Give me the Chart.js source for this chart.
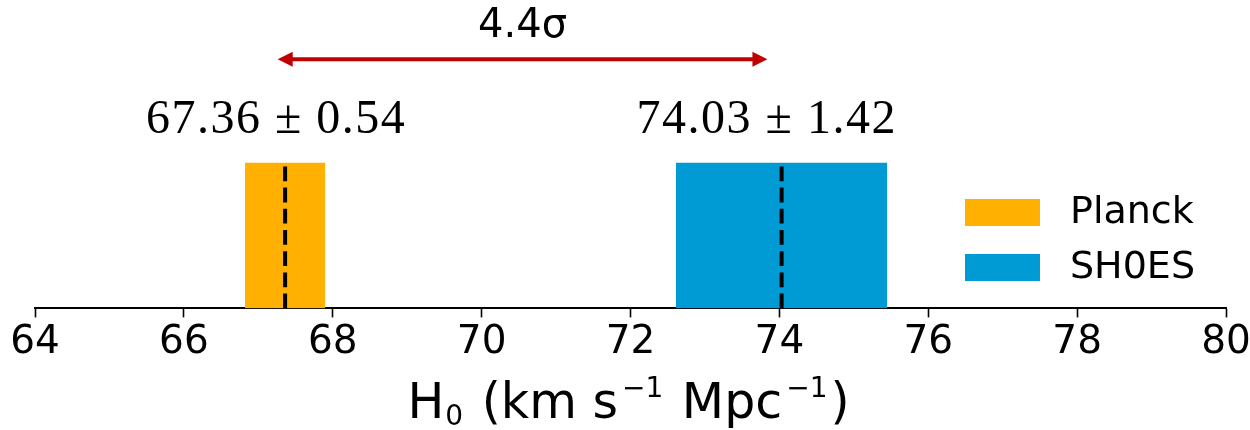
<!DOCTYPE html>
<html>
<head>
<meta charset="utf-8">
<script src="https://cdn.jsdelivr.net/npm/chart.js@4/dist/chart.umd.min.js"></script>
<style>
  html, body { margin: 0; padding: 0; background: #ffffff; }
  canvas { display: block; }
</style>
</head>
<body>
<canvas id="h0chart" width="1250" height="430"></canvas>
<script>
// Hubble constant measurements (km s^-1 Mpc^-1)
const surveys = ['Planck', 'SH0ES'];
const h0Values = [67.36, 74.03];
const h0Errors = [0.54, 1.42];
const tensionLabel = '4.4σ';
const xTickValues = [64, 66, 68, 70, 72, 74, 76, 78, 80];

// styling
const surveyColors = ['#ffb000', '#009bd5'];
const arrowColor = '#c00000';
const BAND_TOP = 1;          // height of the 1-sigma bands in y units
const LABEL_LEVEL = 1.204;   // baseline of the value labels
const ARROW_LEVEL = 1.71;    // height of the tension arrow
const TENSION_LEVEL = 1.863; // baseline of the tension text
const labelAnchors = [67.24, 73.83];
const arrowEnds = [67.26, 73.84];

// x-axis title pieces: [text, size, baseline shift, space before, space after]
const axisTitle = [
  ['H', 49, 0, 0, 0], ['0', 28, 6.7, 1, 3], [' (km s', 49, 0, 0, 0],
  ['−1', 28, -21.3, 4, 3], [' Mpc', 49, 0, 0, 0], ['−1', 28, -21.3, 4, 3], [')', 49, 0, 0, 0]
];

function bandDataset(i) {
  const lo = h0Values[i] - h0Errors[i];
  const hi = h0Values[i] + h0Errors[i];
  return {
    label: surveys[i],
    data: [{x: lo, y: 0}, {x: lo, y: BAND_TOP}, {x: hi, y: BAND_TOP}, {x: hi, y: 0}],
    fill: 'origin',
    backgroundColor: surveyColors[i],
    borderColor: surveyColors[i],
    borderWidth: 0,
    pointRadius: 0,
    tension: 0,
    order: 2
  };
}

function centreDataset(i) {
  return {
    label: surveys[i] + ' central value',
    data: [{x: h0Values[i], y: 0}, {x: h0Values[i], y: BAND_TOP}],
    fill: false,
    borderColor: '#000000',
    borderWidth: 4,
    borderDash: [14.8, 6.4],
    borderCapStyle: 'butt',
    pointRadius: 0,
    order: 1
  };
}

const datasets = [];
surveys.forEach((_, i) => datasets.push(bandDataset(i)));
surveys.forEach((_, i) => datasets.push(centreDataset(i)));

// value labels, tension arrow, axis title and the legend
const h0Annotations = {
  id: 'h0Annotations',
  afterDraw(chart) {
    const {ctx, chartArea, scales: {x, y}} = chart;
    ctx.save();

    // "value ± error" labels
    ctx.fillStyle = '#000000';
    ctx.font = '48px "Liberation Serif"';
    ctx.letterSpacing = '1.5px';
    ctx.textAlign = 'center';
    ctx.textBaseline = 'alphabetic';
    h0Values.forEach((v, i) => {
      ctx.fillText(v.toFixed(2) + ' ± ' + h0Errors[i].toFixed(2),
        x.getPixelForValue(labelAnchors[i]), y.getPixelForValue(LABEL_LEVEL));
    });
    ctx.letterSpacing = '0px';

    // double-headed arrow
    const xa = x.getPixelForValue(arrowEnds[0]);
    const xb = x.getPixelForValue(arrowEnds[1]);
    const ya = y.getPixelForValue(ARROW_LEVEL);
    const headLen = 15, headHalf = 7.5;
    ctx.strokeStyle = arrowColor;
    ctx.fillStyle = arrowColor;
    ctx.lineWidth = 4;
    ctx.beginPath();
    ctx.moveTo(xa + headLen - 1, ya);
    ctx.lineTo(xb - headLen + 1, ya);
    ctx.stroke();
    ctx.beginPath();
    ctx.moveTo(xa, ya);
    ctx.lineTo(xa + headLen, ya - headHalf);
    ctx.lineTo(xa + headLen, ya + headHalf);
    ctx.closePath();
    ctx.fill();
    ctx.beginPath();
    ctx.moveTo(xb, ya);
    ctx.lineTo(xb - headLen, ya - headHalf);
    ctx.lineTo(xb - headLen, ya + headHalf);
    ctx.closePath();
    ctx.fill();

    // tension text
    ctx.fillStyle = '#000000';
    ctx.font = '40px "DejaVu Sans"';
    ctx.textAlign = 'center';
    ctx.fillText(tensionLabel, (xa + xb) / 2, y.getPixelForValue(TENSION_LEVEL));

    // x-axis title with sub/superscripts
    ctx.textAlign = 'left';
    ctx.textBaseline = 'alphabetic';
    const widths = axisTitle.map(([t, s, dy, before, after]) => {
      ctx.font = s + 'px "DejaVu Sans"';
      return before + ctx.measureText(t).width + after;
    });
    const total = widths.reduce((a, b) => a + b, 0);
    let tx = (chartArea.left + chartArea.right) / 2 - total / 2 - 2;
    const baseY = chartArea.bottom + 110;
    axisTitle.forEach(([t, s, dy, before], i) => {
      ctx.font = s + 'px "DejaVu Sans"';
      ctx.fillText(t, tx + before, baseY + dy);
      tx += widths[i];
    });

    // legend
    const lx = chartArea.right - 261;
    const ly = chartArea.top + 182;
    ctx.font = '38px "DejaVu Sans"';
    ctx.textAlign = 'left';
    ctx.textBaseline = 'middle';
    surveys.forEach((name, i) => {
      const top = ly + i * 55;
      ctx.fillStyle = surveyColors[i];
      ctx.fillRect(lx, top, 75, 27);
      ctx.fillStyle = '#000000';
      ctx.fillText(name, lx + 105, top + 14);
    });

    ctx.restore();
  }
};

new Chart(document.getElementById('h0chart'), {
  type: 'line',
  data: {datasets},
  options: {
    responsive: false,
    animation: false,
    devicePixelRatio: 1,
    layout: {padding: {left: 35, right: 24, top: 17, bottom: 61.8}},
    plugins: {
      legend: {display: false},
      tooltip: {enabled: false}
    },
    scales: {
      x: {
        type: 'linear',
        position: 'bottom',
        min: 64,
        max: 80,
        z: 1,
        afterBuildTicks: (scale) => {
          scale.ticks = xTickValues.map(v => ({value: v}));
        },
        afterFit: (scale) => {
          scale.paddingLeft = 0;
          scale.paddingRight = 0;
        },
        ticks: {
          font: {family: 'DejaVu Sans', size: 39},
          color: '#000000',
          padding: 2,
          maxRotation: 0,
          autoSkip: false,
          callback: (v) => String(v)
        },
        grid: {
          display: true,
          drawOnChartArea: false,
          drawTicks: true,
          tickLength: 9,
          tickWidth: 1.6,
          tickColor: '#000000'
        },
        border: {display: true, color: '#000000', width: 2},
        title: {display: false}
      },
      y: {
        type: 'linear',
        min: 0,
        max: 2,
        display: false
      }
    }
  },
  plugins: [h0Annotations]
});
</script>
</body>
</html>
